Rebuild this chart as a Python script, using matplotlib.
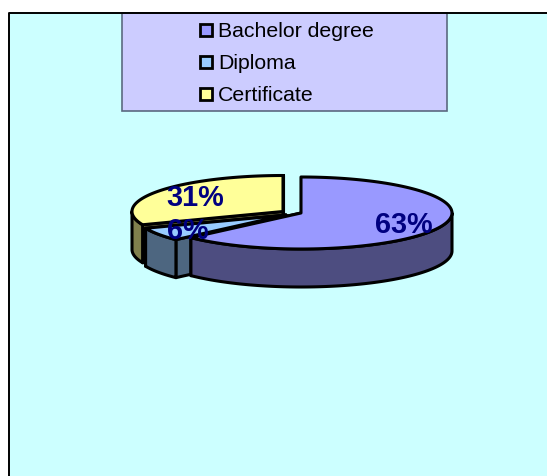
import numpy as np
import matplotlib
matplotlib.use("Agg")
import matplotlib.pyplot as plt
from matplotlib.patches import Rectangle, Polygon

categories = ["Bachelor degree", "Diploma", "Certificate"]
shares = [63, 6, 31]
top_colors = ["#9999FF", "#99CCFF", "#FFFF99"]
side_colors = ["#4D4D80", "#4D6680", "#80804D"]
centers = [(301, 213), (286, 215), (283, 211.5)]
label_radii = [0.74, 0.77, 0.70]

RX, RY, DEPTH = 151, 36, 38
LW = 2.2
plt.rcParams["font.family"] = ["Liberation Sans", "DejaVu Sans"]

fig = plt.figure(figsize=(5.47, 4.77), dpi=100, facecolor="white")
ax = fig.add_axes([0, 0, 1, 1])
ax.set_xlim(0, 547)
ax.set_ylim(476, -1)
ax.axis("off")

# background panel
ax.add_patch(Rectangle((8, 13), 539, 465, fc="#CCFFFF", ec="none", zorder=0))
ax.plot([8.5, 8.5, 547], [478, 13, 13], color="black", lw=1.4, zorder=1)

# legend
ax.add_patch(Rectangle((122, 13), 325, 98, fc="#CCCCFF", ec="#5A6A80", lw=1.2, zorder=1.5))
ax.plot([122, 447], [13, 13], color="black", lw=1.4, zorder=1.6)
for i, (name, col) in enumerate(zip(categories, top_colors)):
    y = 30 + 32 * i
    ax.add_patch(Rectangle((200, y - 6), 12, 12, fc=col, ec="black", lw=2.0, zorder=2))
    ax.text(218, y + 0.5, name, fontsize=15.3, color="black", va="center", ha="left", zorder=2)

# slice angle ranges: clockwise from 12 o'clock
cum = np.cumsum([0] + shares) / sum(shares)
angles = 90 - 360 * cum


def rim(c, a0, a1, n=120):
    t = np.radians(np.linspace(a0, a1, n))
    return np.column_stack([c[0] + RX * np.cos(t), c[1] - RY * np.sin(t)])


order = [2, 1, 0]  # back to front
z = 3
for i in order:
    c = centers[i]
    a0, a1 = angles[i], angles[i + 1]
    kw = dict(closed=True, ec="black", lw=LW, joinstyle="round")
    # radial walls, the one further back first
    ends = sorted((rim(c, a, a, 1)[0] for a in (a0, a1)), key=lambda q: q[1])
    for p in ends:
        ax.add_patch(Polygon([c, p, (p[0], p[1] + DEPTH), (c[0], c[1] + DEPTH)],
                             fc=side_colors[i], zorder=z, **kw))
    # outer wall: only the part facing the viewer (below the horizontal)
    lo, hi = max(a1, -180), min(a0, 0)
    if hi > lo:
        arc = rim(c, hi, lo)
        wall = np.vstack([arc, arc[::-1] + [0, DEPTH]])
        ax.add_patch(Polygon(wall, fc=side_colors[i], zorder=z + 0.1, **kw))
    # top
    top = np.vstack([[c], rim(c, a0, a1)])
    ax.add_patch(Polygon(top, fc=top_colors[i], zorder=z + 0.2, **kw))
    z += 1

# percentage labels
for i, v in enumerate(shares):
    mid = np.radians((angles[i] + angles[i + 1]) / 2)
    c = centers[i]
    r = label_radii[i]
    ax.text(c[0] + r * RX * np.cos(mid), c[1] - r * RY * np.sin(mid), f"{v}%",
            fontsize=20.8, fontweight="bold", color="#000080", ha="center", va="center", zorder=10)

fig.savefig("out.png", dpi=100, facecolor="white")
